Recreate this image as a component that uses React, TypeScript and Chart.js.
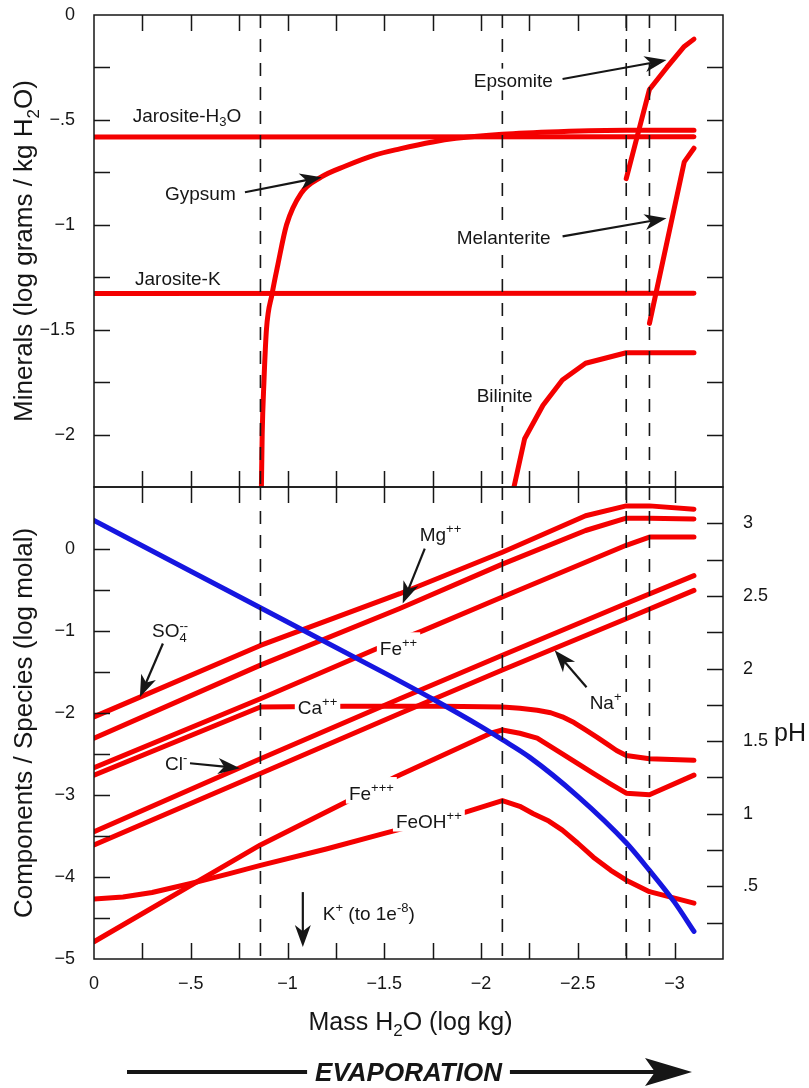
import React, { useEffect, useRef } from 'react';
import { Chart, registerables } from 'chart.js';

Chart.register(...registerables);

const FONT = '"Liberation Sans", Arial, Helvetica, sans-serif';
const RED = '#f40000';
const BLUE = '#1616e0';
const INK = '#161616';

// ---------- axes / tick labels ----------
const X_MIN = -3.25;
const X_MAX = 0;
const X_LABEL_VALUES = [0, -0.5, -1, -1.5, -2, -2.5, -3];
const X_LABELS = ['0', '\u2212.5', '\u22121', '\u22121.5', '\u22122', '\u22122.5', '\u22123'];
const TOP_Y_LABEL_VALUES = [0, -0.5, -1, -1.5, -2];
const TOP_Y_LABELS = ['0', '\u2212.5', '\u22121', '\u22121.5', '\u22122'];
const BOT_Y_LABEL_VALUES = [0, -1, -2, -3, -4, -5];
const BOT_Y_LABELS = ['0', '\u22121', '\u22122', '\u22123', '\u22124', '\u22125'];
const PH_LABEL_VALUES = [0.5, 1, 1.5, 2, 2.5, 3];
const PH_LABELS = ['.5', '1', '1.5', '2', '2.5', '3'];

// dashed stage lines (log kg H2O)
const STAGES = [-0.86, -2.11, -2.75, -2.87];

// ---------- top panel: minerals ----------
const jarositeH3OX = [0, -3.1];
const jarositeH3OY = [-0.582, -0.58];
const jarositeKX = [0, -3.1];
const jarositeKY = [-1.328, -1.326];
const gypsumX = [-0.865, -0.869, -0.878, -0.891, -0.92, -0.95, -0.995, -1.07, -1.175, -1.3, -1.45, -1.58, -1.75, -1.87, -2.11, -2.4, -2.75, -3.1];
const gypsumY = [-2.25, -2.0, -1.75, -1.5, -1.33, -1.19, -1.0, -0.85, -0.772, -0.72, -0.668, -0.638, -0.605, -0.588, -0.568, -0.556, -0.549, -0.549];
const epsomiteX = [-2.75, -2.87, -2.96, -3.05, -3.1];
const epsomiteY = [-0.78, -0.355, -0.25, -0.15, -0.115];
const melanteriteX = [-2.87, -3.05, -3.1];
const melanteriteY = [-1.47, -0.7, -0.635];
const biliniteX = [-2.17, -2.225, -2.32, -2.42, -2.54, -2.75, -2.87, -3.1];
const biliniteY = [-2.25, -2.02, -1.86, -1.74, -1.66, -1.61, -1.61, -1.61];

// ---------- bottom panel: components / species ----------
const so4X = [0, -0.86, -1.58, -2.11, -2.54, -2.75, -2.87, -3.1];
const so4Y = [-2.05, -1.18, -0.55, -0.045, 0.4, 0.52, 0.52, 0.48];
const mgX = [0, -0.86, -1.58, -2.11, -2.54, -2.75, -2.87, -3.1];
const mgY = [-2.31, -1.42, -0.73, -0.19, 0.22, 0.37, 0.37, 0.36];
const fe2X = [0, -0.86, -1.46, -1.7, -2.11, -2.75, -2.87, -3.1];
const fe2Y = [-2.67, -1.83, -1.22, -1.0, -0.59, 0.04, 0.14, 0.14];
const caX = [0, -0.86, -1.3, -1.8, -2.11, -2.2, -2.29, -2.36, -2.42, -2.48, -2.54, -2.6, -2.65, -2.7, -2.75, -2.87, -3.1];
const caY = [-2.76, -1.93, -1.92, -1.92, -1.93, -1.945, -1.97, -2.0, -2.05, -2.12, -2.21, -2.3, -2.38, -2.46, -2.52, -2.56, -2.58];
const clX = [0, -0.86, -1.58, -2.11, -2.75, -3.1];
const clY = [-3.45, -2.56, -1.83, -1.3, -0.67, -0.33];
const naX = [0, -0.86, -1.58, -2.11, -2.75, -3.1];
const naY = [-3.61, -2.74, -2.01, -1.48, -0.855, -0.51];
const fe3X = [0, -0.86, -1.3, -1.56, -2.05, -2.11, -2.2, -2.29, -2.42, -2.5, -2.58, -2.67, -2.75, -2.87, -3.1];
const fe3Y = [-4.79, -3.61, -3.09, -2.78, -2.25, -2.21, -2.25, -2.31, -2.5, -2.62, -2.74, -2.87, -2.98, -3.0, -2.76];
const feohX = [0, -0.15, -0.3, -0.5, -0.7, -0.86, -1.2, -1.5, -1.92, -2.11, -2.2, -2.27, -2.35, -2.42, -2.5, -2.58, -2.67, -2.75, -2.87, -3.1];
const feohY = [-4.27, -4.245, -4.19, -4.08, -3.96, -3.86, -3.66, -3.47, -3.21, -3.07, -3.14, -3.23, -3.32, -3.43, -3.59, -3.76, -3.92, -4.04, -4.18, -4.32];
const phX = [0, -0.5, -1.0, -1.5, -1.75, -2.0, -2.11, -2.25, -2.5, -2.75, -2.87, -3.0, -3.1];
const phY = [3.02, 2.67, 2.32, 1.97, 1.79, 1.6, 1.51, 1.39, 1.12, 0.8, 0.61, 0.39, 0.19];

// ---------- annotations ----------
type Part = { t: string; s?: 'sup' | 'sub'; keep?: boolean };
const P = (t: string, s?: 'sup' | 'sub', keep?: boolean): Part => ({ t, s, keep });
type Note = { parts: Part[]; x: number; y: number; box?: boolean };
type Arrow = { x1: number; y1: number; x2: number; y2: number };

const TOP_NOTES: Note[] = [
  { parts: [P('Jarosite-H'), P('3', 'sub'), P('O')], x: -0.2, y: -0.477, box: true },
  { parts: [P('Gypsum')], x: -0.367, y: -0.85, box: true },
  { parts: [P('Jarosite-K')], x: -0.212, y: -1.255, box: true },
  { parts: [P('Epsomite')], x: -1.962, y: -0.31, box: true },
  { parts: [P('Melanterite')], x: -1.874, y: -1.06, box: true },
  { parts: [P('Bilinite')], x: -1.977, y: -1.814, box: true },
];
const TOP_ARROWS: Arrow[] = [
  { x1: -0.78, y1: -0.845, x2: -1.177, y2: -0.773 },
  { x1: -2.421, y1: -0.305, x2: -2.958, y2: -0.215 },
  { x1: -2.421, y1: -1.055, x2: -2.958, y2: -0.969 },
];
const BOT_NOTES: Note[] = [
  { parts: [P('Mg'), P('++', 'sup')], x: -1.683, y: 0.17 },
  { parts: [P('SO'), P('4', 'sub', true), P('--', 'sup')], x: -0.3, y: -1.0 },
  { parts: [P('Cl'), P('-', 'sup')], x: -0.367, y: -2.615 },
  { parts: [P('Na'), P('+', 'sup')], x: -2.561, y: -1.873 },
  { parts: [P('K'), P('+', 'sup'), P(' (to 1e'), P('-8', 'sup'), P(')')], x: -1.182, y: -4.44 },
];
const BOT_BOXED_NOTES: Note[] = [
  { parts: [P('Ca'), P('++', 'sup')], x: -1.053, y: -1.934, box: true },
  { parts: [P('Fe'), P('++', 'sup')], x: -1.477, y: -1.217, box: true },
  { parts: [P('Fe'), P('+++', 'sup')], x: -1.317, y: -2.98, box: true },
  { parts: [P('FeOH'), P('++', 'sup')], x: -1.56, y: -3.32, box: true },
];
const BOT_ARROWS: Arrow[] = [
  { x1: -1.709, y1: 0.0, x2: -1.595, y2: -0.67 },
  { x1: -0.356, y1: -1.156, x2: -0.237, y2: -1.81 },
  { x1: -0.496, y1: -2.615, x2: -0.754, y2: -2.676 },
  { x1: -2.545, y1: -1.69, x2: -2.38, y2: -1.24 },
  { x1: -1.079, y1: -4.185, x2: -1.079, y2: -4.854 },
];

// ---------- helpers ----------
const labelFor = (values: number[], labels: string[], v: number) => {
  const i = values.findIndex((u) => Math.abs(u - v) < 1e-6);
  return i >= 0 ? labels[i] : '';
};

const pts = (xs: number[], ys: number[]) => xs.map((x, i) => ({ x, y: ys[i] }));

const line = (label: string, xs: number[], ys: number[], color: string, smooth: boolean, axis = 'y') => ({
  label,
  data: pts(xs, ys),
  borderColor: color,
  backgroundColor: color,
  borderWidth: 5,
  pointRadius: 0,
  borderCapStyle: 'round',
  borderJoinStyle: 'round',
  cubicInterpolationMode: smooth ? 'monotone' : 'default',
  tension: 0,
  fill: false,
  yAxisID: axis,
});

const noPad = (s: any) => {
  s.paddingTop = 0;
  s.paddingBottom = 0;
  s.paddingLeft = 0;
  s.paddingRight = 0;
};

function fontFor(size: number, p: Part, style: string) {
  const sz = p.s ? Math.round(size * 0.66) : size;
  return `${style}${sz}px ${FONT}`;
}

function richWidth(ctx: CanvasRenderingContext2D, parts: Part[], size: number, style: string) {
  let w = 0;
  let maxW = 0;
  for (const p of parts) {
    ctx.font = fontFor(size, p, style);
    const pw = ctx.measureText(p.t).width;
    maxW = Math.max(maxW, w + pw);
    if (!p.keep) w += pw;
  }
  return Math.max(w, maxW);
}

function drawRich(
  ctx: CanvasRenderingContext2D,
  parts: Part[],
  x: number,
  yMid: number,
  size: number,
  align: 'left' | 'center' = 'left',
  box = false,
  style = ''
) {
  const w = richWidth(ctx, parts, size, style);
  let cx = align === 'center' ? x - w / 2 : x;
  const base = yMid + size * 0.36;
  if (box) {
    const hasSup = parts.some((p) => p.s === 'sup');
    const hasSub = parts.some((p) => p.s === 'sub');
    const top = yMid - size * (hasSup ? 0.85 : 0.6);
    const bottom = yMid + size * (hasSub ? 0.62 : 0.55);
    ctx.fillStyle = '#fff';
    ctx.fillRect(cx - 3, top, w + 6, bottom - top);
  }
  ctx.fillStyle = INK;
  ctx.textBaseline = 'alphabetic';
  ctx.textAlign = 'left';
  for (const p of parts) {
    ctx.font = fontFor(size, p, style);
    const dy = p.s === 'sup' ? -size * 0.42 : p.s === 'sub' ? size * 0.24 : 0;
    ctx.fillText(p.t, cx, base + dy);
    if (!p.keep) cx += ctx.measureText(p.t).width;
  }
}

function drawArrow(ctx: CanvasRenderingContext2D, x1: number, y1: number, x2: number, y2: number, head = 22, half = 8, lw = 2.2) {
  const len = Math.hypot(x2 - x1, y2 - y1);
  const ux = (x2 - x1) / len;
  const uy = (y2 - y1) / len;
  const nx = -uy;
  const ny = ux;
  ctx.save();
  ctx.strokeStyle = INK;
  ctx.fillStyle = INK;
  ctx.lineWidth = lw;
  ctx.beginPath();
  ctx.moveTo(x1, y1);
  ctx.lineTo(x2 - ux * head * 0.6, y2 - uy * head * 0.6);
  ctx.stroke();
  const bx = x2 - ux * head;
  const by = y2 - uy * head;
  ctx.beginPath();
  ctx.moveTo(x2, y2);
  ctx.lineTo(bx + nx * half, by + ny * half);
  ctx.lineTo(x2 - ux * head * 0.72, y2 - uy * head * 0.72);
  ctx.lineTo(bx - nx * half, by - ny * half);
  ctx.closePath();
  ctx.fill();
  ctx.restore();
}

function drawFrameAndTicks(chart: any, rightId: string) {
  const { ctx, chartArea: a, scales } = chart;
  const L = 16;
  ctx.save();
  ctx.strokeStyle = INK;
  ctx.lineWidth = 1.5;
  ctx.beginPath();
  const xs = scales.x;
  for (const t of xs.ticks) {
    if (t.value <= xs.min + 1e-9 || t.value >= xs.max - 1e-9) continue;
    const px = Math.round(xs.getPixelForValue(t.value)) + 0.5;
    ctx.moveTo(px, a.top);
    ctx.lineTo(px, a.top + L);
    ctx.moveTo(px, a.bottom);
    ctx.lineTo(px, a.bottom - L);
  }
  const ys = scales.y;
  for (const t of ys.ticks) {
    if (t.value <= ys.min + 1e-9 || t.value >= ys.max - 1e-9) continue;
    const py = Math.round(ys.getPixelForValue(t.value)) + 0.5;
    ctx.moveTo(a.left, py);
    ctx.lineTo(a.left + L, py);
  }
  const rs = scales[rightId];
  for (const t of rs.ticks) {
    if (t.value <= rs.min + 1e-9 || t.value >= rs.max - 1e-9) continue;
    const py = Math.round(rs.getPixelForValue(t.value)) + 0.5;
    ctx.moveTo(a.right, py);
    ctx.lineTo(a.right - L, py);
  }
  ctx.stroke();
  ctx.strokeRect(a.left, a.top, a.right - a.left, a.bottom - a.top);
  ctx.restore();
}

function drawStages(chart: any) {
  const { ctx, chartArea: a, scales } = chart;
  ctx.save();
  ctx.strokeStyle = INK;
  ctx.lineWidth = 1.6;
  ctx.setLineDash([13, 11]);
  for (const s of STAGES) {
    const px = scales.x.getPixelForValue(s);
    ctx.beginPath();
    ctx.moveTo(px, a.top);
    ctx.lineTo(px, a.bottom);
    ctx.stroke();
  }
  ctx.restore();
}

function drawNotes(chart: any, notes: Note[], arrows: Arrow[]) {
  const { ctx, scales } = chart;
  ctx.save();
  for (const n of notes) {
    drawRich(ctx, n.parts, scales.x.getPixelForValue(n.x), scales.y.getPixelForValue(n.y), 19, 'left', !!n.box);
  }
  for (const ar of arrows) {
    drawArrow(
      ctx,
      scales.x.getPixelForValue(ar.x1),
      scales.y.getPixelForValue(ar.y1),
      scales.x.getPixelForValue(ar.x2),
      scales.y.getPixelForValue(ar.y2)
    );
  }
  ctx.restore();
}

const tickFont = { size: 18, family: FONT };

const topPlugin = {
  id: 'topPanel',
  afterDatasetsDraw(chart: any) {
    drawStages(chart);
    drawNotes(chart, TOP_NOTES, TOP_ARROWS);
  },
  afterDraw(chart: any) {
    drawFrameAndTicks(chart, 'y');
    const { ctx, chartArea: a } = chart;
    ctx.save();
    ctx.translate(23, (a.top + a.bottom) / 2);
    ctx.rotate(-Math.PI / 2);
    drawRich(ctx, [P('Minerals (log grams / kg H'), P('2', 'sub'), P('O)')], 0, 0, 26, 'center');
    ctx.restore();
  },
};

const botPlugin = {
  id: 'botPanel',
  beforeDatasetDraw(chart: any, args: any) {
    if (args.index === 0) {
      drawNotes(chart, BOT_BOXED_NOTES, []);
    }
  },
  afterDatasetsDraw(chart: any) {
    drawStages(chart);
    drawNotes(chart, BOT_NOTES, BOT_ARROWS);
  },
  afterDraw(chart: any) {
    drawFrameAndTicks(chart, 'y2');
    const { ctx, chartArea: a } = chart;
    ctx.save();
    ctx.translate(23, (a.top + a.bottom) / 2);
    ctx.rotate(-Math.PI / 2);
    drawRich(ctx, [P('Components / Species (log molal)')], 0, 0, 26, 'center');
    ctx.restore();

    ctx.save();
    drawRich(ctx, [P('pH')], a.right + 51, a.top + 245, 25, 'left');
    const cx = (a.left + a.right) / 2;
    drawRich(ctx, [P('Mass H'), P('2', 'sub'), P('O (log kg)')], cx + 2, a.bottom + 62, 25, 'center');

    // EVAPORATION arrow
    const ey = a.bottom + 113;
    const label = [P('EVAPORATION')];
    const tw = richWidth(ctx, label, 26, 'italic bold ');
    drawRich(ctx, label, cx, ey, 26, 'center', false, 'italic bold ');
    ctx.strokeStyle = INK;
    ctx.fillStyle = INK;
    ctx.lineWidth = 4;
    ctx.beginPath();
    ctx.moveTo(127, ey);
    ctx.lineTo(cx - tw / 2 - 8, ey);
    ctx.moveTo(cx + tw / 2 + 8, ey);
    ctx.lineTo(660, ey);
    ctx.stroke();
    ctx.beginPath();
    ctx.moveTo(692, ey);
    ctx.lineTo(645, ey - 14);
    ctx.lineTo(655, ey);
    ctx.lineTo(645, ey + 14);
    ctx.closePath();
    ctx.fill();
    ctx.restore();
  },
};

function topConfig(): any {
  return {
    type: 'line',
    data: {
      datasets: [
        line('Jarosite-H3O', jarositeH3OX, jarositeH3OY, RED, false),
        line('Jarosite-K', jarositeKX, jarositeKY, RED, false),
        line('Gypsum', gypsumX, gypsumY, RED, true),
        line('Epsomite', epsomiteX, epsomiteY, RED, false),
        line('Melanterite', melanteriteX, melanteriteY, RED, false),
        line('Bilinite', biliniteX, biliniteY, RED, false),
      ],
    },
    options: {
      responsive: false,
      animation: false,
      events: [],
      layout: { padding: { left: 0, right: 86, top: 15, bottom: 3 } },
      plugins: { legend: { display: false }, tooltip: { enabled: false } },
      scales: {
        x: {
          type: 'linear',
          min: X_MIN,
          max: X_MAX,
          reverse: true,
          ticks: { display: false, stepSize: 0.25, autoSkip: false },
          grid: { display: false },
          border: { display: false },
          afterFit: (s: any) => {
            s.height = 0;
            noPad(s);
          },
        },
        y: {
          type: 'linear',
          position: 'left',
          min: -2.25,
          max: 0,
          ticks: {
            stepSize: 0.25,
            autoSkip: false,
            padding: 11,
            font: tickFont,
            color: INK,
            callback: (v: number) => labelFor(TOP_Y_LABEL_VALUES, TOP_Y_LABELS, v),
          },
          grid: { display: false },
          border: { display: false },
          afterFit: (s: any) => {
            s.width = 94;
            noPad(s);
          },
        },
      },
    },
    plugins: [topPlugin],
  };
}

function botConfig(): any {
  return {
    type: 'line',
    data: {
      datasets: [
        line('pH', phX, phY, BLUE, true, 'y2'),
        line('SO4--', so4X, so4Y, RED, false),
        line('Mg++', mgX, mgY, RED, false),
        line('Fe++', fe2X, fe2Y, RED, false),
        line('Ca++', caX, caY, RED, false),
        line('Cl-', clX, clY, RED, false),
        line('Na+', naX, naY, RED, false),
        line('Fe+++', fe3X, fe3Y, RED, false),
        line('FeOH++', feohX, feohY, RED, false),
      ],
    },
    options: {
      responsive: false,
      animation: false,
      events: [],
      layout: { padding: { left: 0, right: 0, top: 7, bottom: 0 } },
      plugins: { legend: { display: false }, tooltip: { enabled: false } },
      scales: {
        x: {
          type: 'linear',
          min: X_MIN,
          max: X_MAX,
          reverse: true,
          ticks: {
            stepSize: 0.25,
            autoSkip: false,
            maxRotation: 0,
            minRotation: 0,
            padding: 6,
            font: tickFont,
            color: INK,
            callback: (v: number) => labelFor(X_LABEL_VALUES, X_LABELS, v),
          },
          grid: { display: false },
          border: { display: false },
          afterFit: (s: any) => {
            s.height = 129;
            noPad(s);
          },
        },
        y: {
          type: 'linear',
          position: 'left',
          min: -5,
          max: 0.75,
          ticks: {
            stepSize: 0.5,
            autoSkip: false,
            padding: 11,
            font: tickFont,
            color: INK,
            callback: (v: number) => labelFor(BOT_Y_LABEL_VALUES, BOT_Y_LABELS, v),
          },
          grid: { display: false },
          border: { display: false },
          afterFit: (s: any) => {
            s.width = 94;
            noPad(s);
          },
        },
        y2: {
          type: 'linear',
          position: 'right',
          min: 0,
          max: 3.25,
          ticks: {
            stepSize: 0.25,
            autoSkip: false,
            padding: 12,
            font: tickFont,
            color: INK,
            callback: (v: number) => labelFor(PH_LABEL_VALUES, PH_LABELS, v),
          },
          grid: { display: false },
          border: { display: false },
          afterFit: (s: any) => {
            s.width = 86;
            noPad(s);
          },
        },
      },
    },
    plugins: [botPlugin],
  };
}

export default function App() {
  const topRef = useRef<HTMLCanvasElement>(null);
  const botRef = useRef<HTMLCanvasElement>(null);
  useEffect(() => {
    Chart.defaults.font.family = FONT;
    const top = new Chart(topRef.current as HTMLCanvasElement, topConfig());
    const bot = new Chart(botRef.current as HTMLCanvasElement, botConfig());
    return () => {
      top.destroy();
      bot.destroy();
    };
  }, []);
  return (
    <div style={{ position: 'absolute', left: 0, top: 0, width: 809, height: 1088, background: '#fff', overflow: 'hidden' }}>
      <canvas ref={topRef} width={809} height={490} style={{ position: 'absolute', left: 0, top: 0 }} />
      <canvas ref={botRef} width={809} height={608} style={{ position: 'absolute', left: 0, top: 480 }} />
    </div>
  );
}
